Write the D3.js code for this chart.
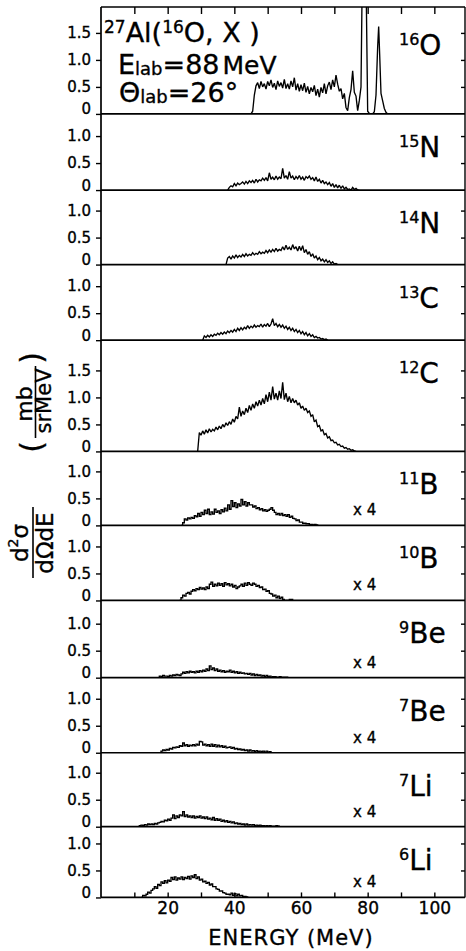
<!DOCTYPE html>
<html><head><meta charset="utf-8">
<script src="https://cdn.jsdelivr.net/npm/d3@7/dist/d3.min.js"></script>
<style>html,body{margin:0;padding:0;background:#fff;}svg{display:block;}
text{stroke:#000;stroke-width:0.35px;paint-order:stroke;}</style>
</head><body>
<svg id="chart" width="466" height="951"></svg>
<script>
// ---------- DATA ----------
const isotopeMass = ["16","15","14","13","12","11","10","9","7","7","6"];
const isotopeElement = ["O","N","N","C","C","B","B","Be","Be","Li","Li"];
const scaleFactor = [1,1,1,1,1,4,4,4,4,4,4];
const panelYMax = [1.98,1.41,1.38,1.40,2.06,1.37,1.39,1.43,1.39,1.37,1.31];
const panelYTicks = [[0,0.5,1,1.5],[0,0.5,1],[0,0.5,1],[0,0.5,1],[0,0.5,1,1.5],[0,0.5,1],[0,0.5,1],[0,0.5,1],[0,0.5,1],[0,0.5,1],[0,0.5,1]];
const energyTicks = [10,20,30,40,50,60,70,80,90,100];
const energyLabels = [20,40,60,80,100];
const channelStep = 0.5; // MeV per channel
const seriesStart = [45,38,37.5,30.5,29,24,23.5,17,17.5,11,12];

const o16Values = [0,0.05,0.35,0.52,0.58,0.47,0.6,0.5,0.56,0.46,0.6,0.52,0.63,0.49,0.57,0.45,0.61,0.51,0.58,0.48,0.64,0.47,0.56,0.46,0.61,0.5,0.67,0.44,0.56,0.42,0.54,0.43,0.57,0.4,0.51,0.37,0.49,0.41,0.53,0.34,0.46,0.31,0.49,0.39,0.56,0.37,0.52,0.59,0.45,0.63,0.5,0.72,0.55,0.42,0.47,0.28,0.38,0.12,0.06,0.3,0.45,0.8,0.4,0.33,0.06,0.25];
const o16PeakEnergy = [78,78.5,79,79.5,80,80.5,81.5,82,82.5,83,83.3,83.6,84,84.5,85,85.5,86,88];
const o16PeakValue = [0.5,3.2,4.0,2.6,0.05,0.01,0,0.04,0.35,1.25,1.62,1.1,0.38,0.24,0.1,0.03,0,0];
const n15Values = [0,0.05,0.08,0.06,0.12,0.08,0.13,0.1,0.12,0.15,0.11,0.16,0.12,0.17,0.14,0.18,0.13,0.2,0.15,0.19,0.17,0.22,0.18,0.23,0.17,0.32,0.2,0.24,0.19,0.26,0.2,0.24,0.21,0.4,0.22,0.27,0.2,0.34,0.22,0.26,0.19,0.25,0.21,0.27,0.2,0.24,0.18,0.25,0.22,0.26,0.2,0.23,0.17,0.24,0.16,0.2,0.13,0.18,0.12,0.15,0.1,0.14,0.07,0.12,0.05,0.1,0.04,0.09,0.03,0.08,0.02,0.05,0.01,0.02,0,0.05,0.01,0.03,0,0];
const n14Values = [0,0.12,0.15,0.1,0.16,0.12,0.18,0.13,0.17,0.14,0.19,0.15,0.2,0.16,0.19,0.17,0.22,0.18,0.21,0.19,0.24,0.2,0.23,0.21,0.26,0.22,0.27,0.23,0.28,0.24,0.3,0.25,0.28,0.26,0.33,0.27,0.36,0.28,0.32,0.27,0.37,0.29,0.33,0.25,0.34,0.26,0.35,0.22,0.28,0.19,0.24,0.15,0.2,0.12,0.16,0.09,0.13,0.07,0.1,0.05,0.09,0.04,0.07,0.02,0.05,0.01,0.02,0];
const c13Values = [0,0.08,0.05,0.09,0.06,0.1,0.07,0.11,0.09,0.13,0.1,0.14,0.11,0.15,0.12,0.17,0.14,0.18,0.15,0.2,0.16,0.22,0.18,0.23,0.19,0.24,0.21,0.27,0.22,0.26,0.23,0.28,0.24,0.27,0.25,0.3,0.24,0.29,0.26,0.31,0.25,0.3,0.4,0.27,0.31,0.25,0.29,0.24,0.28,0.22,0.26,0.2,0.24,0.18,0.22,0.16,0.2,0.14,0.18,0.12,0.16,0.1,0.14,0.08,0.12,0.07,0.1,0.05,0.07,0.04,0.05,0.02,0.03,0.01,0.02,0];
const c12Values = [0,0.35,0.3,0.38,0.32,0.4,0.34,0.42,0.36,0.41,0.38,0.45,0.4,0.47,0.42,0.5,0.45,0.53,0.48,0.55,0.5,0.6,0.54,0.65,0.6,0.82,0.65,0.75,0.68,0.8,0.72,0.85,0.76,0.88,0.8,0.92,0.84,0.95,0.86,0.98,0.88,1.05,0.92,1.1,0.95,1.2,0.97,1.08,0.95,1.12,0.98,1.28,0.96,1.08,0.92,1.02,0.9,0.98,0.9,0.95,0.86,0.9,0.8,0.84,0.76,0.8,0.72,0.75,0.65,0.68,0.55,0.58,0.46,0.48,0.38,0.4,0.31,0.33,0.25,0.27,0.2,0.21,0.16,0.17,0.12,0.13,0.09,0.1,0.06,0.07,0.04,0.05,0.02,0.03,0.01,0];
const b11Values = [0,0.05,0.12,0.1,0.14,0.12,0.15,0.13,0.18,0.16,0.22,0.17,0.24,0.2,0.28,0.22,0.3,0.2,0.25,0.21,0.3,0.24,0.27,0.22,0.29,0.25,0.32,0.27,0.38,0.3,0.46,0.35,0.42,0.33,0.4,0.36,0.48,0.38,0.44,0.36,0.42,0.38,0.38,0.34,0.36,0.31,0.33,0.29,0.31,0.27,0.29,0.26,0.28,0.3,0.33,0.28,0.24,0.2,0.22,0.19,0.22,0.18,0.2,0.17,0.2,0.15,0.17,0.13,0.12,0.09,0.1,0.06,0.06,0.04,0.04,0.03,0.03,0.02,0.02,0.01,0.02,0.01,0];
const b10Values = [0,0.05,0.1,0.08,0.13,0.15,0.12,0.17,0.2,0.18,0.22,0.2,0.24,0.21,0.23,0.2,0.25,0.22,0.3,0.34,0.26,0.3,0.27,0.32,0.28,0.31,0.26,0.33,0.29,0.31,0.27,0.3,0.25,0.28,0.22,0.25,0.27,0.3,0.26,0.32,0.28,0.33,0.3,0.28,0.32,0.3,0.26,0.28,0.24,0.25,0.2,0.21,0.17,0.18,0.13,0.12,0.08,0.1,0.05,0.08,0.04,0.06,0.02,0,0,0,0.02,0.02,0];
const be9Values = [0,0.03,0.02,0.04,0.03,0.03,0.02,0.04,0.03,0.05,0.04,0.06,0.05,0.04,0.07,0.1,0.08,0.11,0.09,0.12,0.1,0.11,0.09,0.12,0.1,0.13,0.11,0.14,0.12,0.16,0.13,0.22,0.15,0.18,0.13,0.16,0.12,0.14,0.11,0.13,0.1,0.12,0.11,0.14,0.1,0.12,0.09,0.11,0.08,0.1,0.08,0.09,0.07,0.08,0.06,0.08,0.05,0.07,0.04,0.06,0.04,0.05,0.03,0.04,0.02,0.04,0.02,0.03,0.01,0.02,0.02,0.01,0.01,0.02,0.01,0.01,0.01,0.01,0];
const be7Values = [0,0.03,0.05,0.04,0.06,0.05,0.08,0.07,0.1,0.09,0.11,0.1,0.13,0.12,0.18,0.13,0.15,0.12,0.14,0.13,0.15,0.13,0.16,0.14,0.21,0.2,0.14,0.16,0.13,0.15,0.12,0.16,0.12,0.15,0.11,0.14,0.11,0.13,0.1,0.12,0.09,0.1,0.11,0.08,0.1,0.07,0.08,0.06,0.07,0.05,0.06,0.04,0.05,0.03,0.05,0.03,0.04,0.02,0.04,0.02,0.03,0.02,0.03,0.01,0.03,0.01,0.02,0,0];
const li7Values = [0,0.02,0.03,0.02,0.04,0.03,0.05,0.04,0.05,0.04,0.06,0.05,0.07,0.08,0.1,0.09,0.12,0.11,0.14,0.12,0.16,0.22,0.15,0.2,0.17,0.22,0.2,0.28,0.19,0.22,0.18,0.2,0.17,0.2,0.16,0.19,0.17,0.2,0.16,0.18,0.15,0.18,0.14,0.16,0.13,0.17,0.12,0.15,0.12,0.14,0.1,0.12,0.09,0.11,0.08,0.1,0.07,0.09,0.06,0.07,0.05,0.06,0.04,0.05,0.03,0.05,0.03,0.04,0.03,0.04,0.02,0.03,0.02,0.03,0.02,0.02,0.01,0.02,0.01,0.02,0.01,0.01,0.01,0.02,0.01,0];
const li6Values = [0,0.04,0.03,0.06,0.1,0.08,0.13,0.16,0.2,0.17,0.24,0.22,0.29,0.26,0.31,0.27,0.32,0.3,0.37,0.33,0.38,0.32,0.36,0.34,0.38,0.33,0.37,0.35,0.39,0.34,0.4,0.37,0.42,0.35,0.38,0.32,0.34,0.29,0.3,0.26,0.28,0.23,0.25,0.2,0.2,0.16,0.15,0.12,0.12,0.09,0.08,0.06,0.06,0.05,0.08,0.04,0.07,0.03,0.06,0.03,0.04,0.02,0.02,0.01,0];
const seriesValues = [o16Values,n15Values,n14Values,c13Values,c12Values,b11Values,b10Values,be9Values,be7Values,li7Values,li6Values];

// ---------- LAYOUT ----------
const FONT = "'DejaVu Sans', sans-serif";
const INK = "#000";
const svg = d3.select("#chart");
const xLeft = 101, xRight = 465, yTop = 7, pxPerUnit = 54;
const x = d3.scaleLinear().domain([0, 109.2]).range([xLeft, xRight]);

let cursor = yTop;
const panels = panelYMax.map((m, i) => {
  const top = cursor, bottom = cursor + m * pxPerUnit;
  cursor = bottom;
  return {i, top, bottom, y: d3.scaleLinear().domain([0, m]).range([bottom, top])};
});
const plotBottom = cursor;

const defs = svg.append("defs");
panels.forEach(p => {
  defs.append("clipPath").attr("id", "clip" + p.i)
    .append("rect").attr("x", xLeft).attr("y", p.top).attr("width", xRight - xLeft).attr("height", p.bottom - p.top);
});

// data lines
panels.forEach(p => {
  const vals = seriesValues[p.i];
  let pts = vals.map((v, k) => [seriesStart[p.i] + k * channelStep, v]);
  if (p.i === 0) pts = pts.concat(o16PeakEnergy.map((e, k) => [e, o16PeakValue[k]]));
  const line = d3.line().x(d => x(d[0])).y(d => p.y(d[1]))
    .curve(scaleFactor[p.i] > 1 ? d3.curveStepAfter : d3.curveLinear);
  svg.append("path").attr("d", line(pts)).attr("clip-path", `url(#clip${p.i})`)
    .attr("fill", "none").attr("stroke", INK).attr("stroke-width", 1.35)
    .attr("stroke-linejoin", "miter").attr("stroke-miterlimit", 2);
});

// axes per panel
panels.forEach(p => {
  const ticks = panelYTicks[p.i];
  const la = svg.append("g").attr("transform", `translate(${xLeft},0)`)
    .call(d3.axisLeft(p.y).tickValues(ticks).tickSize(5).tickPadding(5)
      .tickFormat(d => d === 0 ? "0" : d3.format(".1f")(d)));
  la.select(".domain").remove();
  la.selectAll(".tick line").attr("stroke", INK).attr("stroke-width", 1.4);
  la.selectAll(".tick text").attr("font-family", FONT).attr("font-size", 15).attr("fill", INK);
  la.selectAll(".tick text").filter(d => d === 0).attr("dy", "0em");
  const ra = svg.append("g").attr("transform", `translate(${xRight},0)`)
    .call(d3.axisLeft(p.y).tickValues(ticks.filter(t => t > 0)).tickSize(4).tickFormat(""));
  ra.select(".domain").remove();
  ra.selectAll(".tick line").attr("stroke", INK).attr("stroke-width", 1.4);

  // panel bottom line
  svg.append("line").attr("x1", xLeft).attr("x2", xRight).attr("y1", p.bottom).attr("y2", p.bottom)
    .attr("stroke", INK).attr("stroke-width", 1.7);

  // isotope label
  const lab = svg.append("text").attr("x", 399).attr("y", p.top + (p.i === 0 ? 48 : 43))
    .attr("font-family", FONT).attr("fill", INK);
  lab.append("tspan").attr("font-size", 16).attr("dy", -10).text(isotopeMass[p.i]);
  lab.append("tspan").attr("font-size", 28).attr("dy", 10).text(isotopeElement[p.i]);

  if (scaleFactor[p.i] > 1) {
    svg.append("text").attr("x", 353).attr("y", p.bottom - 10)
      .attr("font-family", FONT).attr("font-size", 15).attr("fill", INK)
      .text("x " + scaleFactor[p.i]);
  }
});

// frame
svg.append("line").attr("x1", xLeft).attr("x2", xLeft).attr("y1", yTop).attr("y2", plotBottom).attr("stroke", INK).attr("stroke-width", 1.7);
svg.append("line").attr("x1", xRight).attr("x2", xRight).attr("y1", yTop).attr("y2", plotBottom).attr("stroke", INK).attr("stroke-width", 1.4);
svg.append("line").attr("x1", xLeft).attr("x2", xRight).attr("y1", yTop).attr("y2", yTop).attr("stroke", INK).attr("stroke-width", 1.7);

// top ticks
const ta = svg.append("g").attr("transform", `translate(0,${yTop})`)
  .call(d3.axisBottom(x).tickValues(energyTicks).tickSize(7).tickFormat(""));
ta.select(".domain").remove();
ta.selectAll(".tick line").attr("stroke", INK).attr("stroke-width", 1.4);
// bottom ticks
const ba = svg.append("g").attr("transform", `translate(0,${plotBottom})`)
  .call(d3.axisTop(x).tickValues(energyTicks).tickSize(5).tickFormat(""));
ba.select(".domain").remove();
ba.selectAll(".tick line").attr("stroke", INK).attr("stroke-width", 1.4);
const bl = svg.append("g").attr("transform", `translate(0,${plotBottom})`)
  .call(d3.axisBottom(x).tickValues(energyLabels).tickSize(0).tickPadding(4));
bl.select(".domain").remove();
bl.selectAll(".tick text").attr("font-family", FONT).attr("font-size", 17).attr("fill", INK);

svg.append("text").attr("x", 291).attr("y", 945).attr("text-anchor", "middle")
  .attr("font-family", FONT).attr("font-size", 21).attr("letter-spacing", 1).attr("fill", INK)
  .text("ENERGY (MeV)");

// title block
const t1 = svg.append("text").attr("x", 104).attr("y", 42).attr("font-family", FONT).attr("fill", INK).attr("font-size", 27);
t1.append("tspan").attr("font-size", 17).attr("dy", -9).text("27");
t1.append("tspan").attr("dy", 9).text("Al(");
t1.append("tspan").attr("font-size", 17).attr("dy", -9).text("16");
t1.append("tspan").attr("dy", 9).text("O, X )");
const t2 = svg.append("text").attr("x", 118).attr("y", 74).attr("font-family", FONT).attr("fill", INK).attr("font-size", 27);
t2.append("tspan").text("E");
t2.append("tspan").attr("font-size", 18).attr("dy", 1).text("lab");
t2.append("tspan").attr("dy", -1).text("=88");
t2.append("tspan").attr("font-size", 25).attr("dx", 3).text("MeV");
const t3 = svg.append("text").attr("x", 119).attr("y", 102).attr("font-family", FONT).attr("fill", INK).attr("font-size", 27);
t3.append("tspan").text("Θ");
t3.append("tspan").attr("font-size", 18).attr("dy", 1).text("lab");
t3.append("tspan").attr("dy", -1).text("=26°");

// y axis title (rotated)
const yt = svg.append("g").attr("transform", "rotate(-90)").attr("font-family", FONT).attr("fill", INK);
// d2sigma / dOmega dE
const num1 = yt.append("text").attr("x", -543).attr("y", 28).attr("text-anchor", "middle").attr("font-size", 23);
num1.append("tspan").text("d");
num1.append("tspan").attr("font-size", 14).attr("dy", -10).text("2");
num1.append("tspan").attr("dy", 10).text("σ");
yt.append("line").attr("x1", -578).attr("x2", -507).attr("y1", 33).attr("y2", 33).attr("stroke", INK).attr("stroke-width", 1.6);
yt.append("text").attr("x", -543).attr("y", 53).attr("text-anchor", "middle").attr("font-size", 23).text("dΩdE");
// (mb / sr MeV)
yt.append("text").attr("x", -447).attr("y", 42).attr("text-anchor", "middle").attr("font-size", 30).text("(");
yt.append("text").attr("x", -358).attr("y", 42).attr("text-anchor", "middle").attr("font-size", 30).text(")");
yt.append("text").attr("x", -404).attr("y", 32).attr("text-anchor", "middle").attr("font-size", 22).text("mb");
yt.append("line").attr("x1", -438).attr("x2", -366).attr("y1", 35.5).attr("y2", 35.5).attr("stroke", INK).attr("stroke-width", 1.6);
yt.append("text").attr("x", -401).attr("y", 51).attr("text-anchor", "middle").attr("font-size", 21).text("srMeV");
</script>
</body></html>
